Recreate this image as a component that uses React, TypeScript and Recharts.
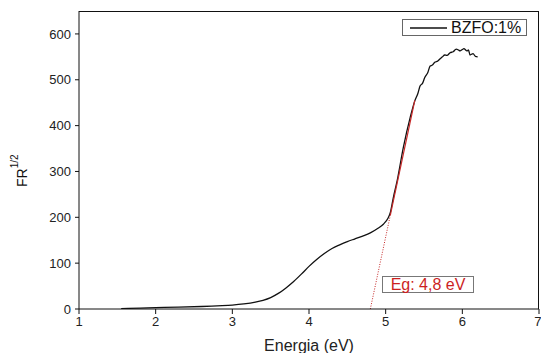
import React from 'react';
import { LineChart, Line, XAxis, YAxis, Legend } from 'recharts';

// Energia (eV) vs FR^1/2
const energy = [
  1.55, 1.8, 2.0, 2.3, 2.6, 2.8, 3.0, 3.15, 3.3, 3.4, 3.5, 3.6, 3.7, 3.8, 3.9, 4.0,
  4.1, 4.2, 4.3, 4.4, 4.5, 4.6, 4.7, 4.8, 4.9, 4.97, 5.03, 5.06, 5.1, 5.15, 5.23,
  5.32, 5.38, 5.42, 5.45, 5.48, 5.51, 5.55, 5.58, 5.61, 5.64, 5.68, 5.71, 5.74,
  5.77, 5.8, 5.84, 5.88, 5.92, 5.95, 5.97, 6.0, 6.02, 6.06, 6.08, 6.1, 6.14, 6.17, 6.2,
];
const fr = [
  1, 2, 3, 4, 5.5, 7, 8.5, 11, 15, 19, 25, 34, 46, 60, 76, 93,
  108, 121, 132, 140, 147, 153, 159, 166, 176, 185, 198, 210, 243, 280, 352,
  418, 454, 470, 487, 492, 505, 516, 530, 532, 538, 541, 546, 550,
  554, 553, 559, 561, 567, 565, 563, 566, 568, 563, 565, 554, 557, 551, 550,
];

// linear fit for the band gap (Eg = 4,8 eV)
const fitDotted = [
  { e: 4.8, v: 0 },
  { e: 5.06, v: 204 },
];
const fitSolid = [
  { e: 5.06, v: 204 },
  { e: 5.38, v: 455 },
];

const xDomain = [1, 7];
const yDomain = [0, 650];
const xTicks = [1, 2, 3, 4, 5, 6, 7];
const yTicks = [0, 100, 200, 300, 400, 500, 600];

const seriesName = 'BZFO:1%';
const gapLabel = 'Eg: 4,8 eV';

const font = '"Liberation Sans", Arial, sans-serif';

const chartData = energy.map((e, i) => ({ e, v: fr[i] }));

const LegendBox = () => (
  <div
    style={{
      border: '1px solid #666',
      background: '#fff',
      display: 'flex',
      alignItems: 'center',
      height: 15,
      width: 123,
      fontFamily: font,
      fontSize: 16,
      color: '#111',
    }}
  >
    <svg width={48} height={15}>
      <line x1={7} y1={8} x2={44} y2={8} stroke="#111" strokeWidth={1.3} />
    </svg>
    <span style={{ lineHeight: '15px' }}>{seriesName}</span>
  </div>
);

const YLabel = () => (
  <text
    x={27}
    y={187}
    transform="rotate(-90, 27, 187)"
    fontFamily={font}
    fontSize={14}
    fill="#111"
  >
    FR
    <tspan fontSize={10} dy={-9}>
      1/2
    </tspan>
  </text>
);

const App: React.FC = () => {
  return (
    <div style={{ position: 'absolute', left: 0, top: 0, width: 541, height: 353, background: '#fff' }}>
      <LineChart
        width={541}
        height={353}
        data={chartData}
        margin={{ top: 11, right: 2, left: 19, bottom: 14 }}
        style={{ fontFamily: font }}
      >
        <XAxis
          dataKey="e"
          type="number"
          domain={xDomain}
          ticks={xTicks}
          allowDataOverflow
          height={30}
          tickSize={5}
          tickMargin={3}
          stroke="#111"
          tick={{ fill: '#222', fontSize: 13 }}
          label={{ value: 'Energia (eV)', position: 'bottom', offset: 1, fill: '#222', fontSize: 16 }}
        />
        <YAxis
          type="number"
          domain={yDomain}
          ticks={yTicks}
          allowDataOverflow
          width={60}
          tickSize={4}
          tickMargin={4}
          stroke="#111"
          tick={{ fill: '#222', fontSize: 13 }}
          label={{ content: () => <YLabel /> }}
        />
        <Legend
          verticalAlign="middle"
          align="center"
          layout="horizontal"
          content={() => <LegendBox />}
          wrapperStyle={{ left: 402, top: 19, width: 'auto', height: 'auto' }}
        />
        <Line
          dataKey="v"
          name={seriesName}
          type="monotone"
          stroke="#111"
          strokeWidth={1.3}
          dot={false}
          isAnimationActive={false}
        />
        <Line
          data={fitDotted}
          dataKey="v"
          type="linear"
          stroke="#c62828"
          strokeWidth={1}
          strokeDasharray="1 1.5"
          dot={false}
          legendType="none"
          isAnimationActive={false}
        />
        <Line
          data={fitSolid}
          dataKey="v"
          type="linear"
          stroke="#c62828"
          strokeWidth={1.2}
          dot={false}
          legendType="none"
          isAnimationActive={false}
        />
      </LineChart>
      {/* top and right sides of the plot frame */}
      <div
        style={{
          position: 'absolute',
          left: 79,
          top: 11,
          width: 459,
          height: 297,
          borderTop: '1px solid #111',
          borderRight: '1px solid #111',
          pointerEvents: 'none',
          zIndex: 5,
        }}
      />
      <div
        style={{
          position: 'absolute',
          left: 382,
          top: 276,
          width: 90,
          height: 15,
          border: '1px solid #777',
          background: '#fff',
          color: '#cc1f1f',
          fontFamily: font,
          fontSize: 16,
          lineHeight: '15px',
          textAlign: 'center',
        }}
      >
        {gapLabel}
      </div>
    </div>
  );
};

export default App;
